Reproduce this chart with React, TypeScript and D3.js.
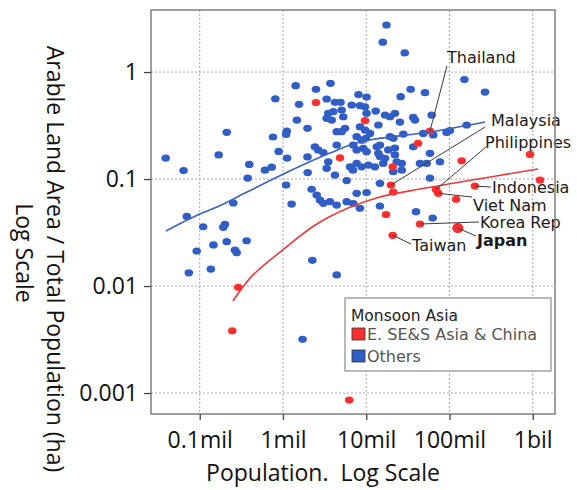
import { useEffect, useRef } from 'react';
import * as d3 from 'd3';

// Population in millions (log axis), arable land per person in ha (log axis)
const xTicks = [0.1, 1, 10, 100, 1000];
const xTickLabels = ['0.1mil', '1mil', '10mil', '100mil', '1bil'];
const yTicks = [1, 0.1, 0.01, 0.001];
const yTickLabels = ['1', '0.1', '0.01', '0.001'];

// "Others" countries: [population (mil), arable ha / person]
const otherPoints: [number, number][] = [
  [0.039, 0.157], [0.064, 0.12], [0.07, 0.0447], [0.11, 0.0358], [0.192, 0.0354], [0.201, 0.0377],
  [0.092, 0.0212], [0.146, 0.0242], [0.211, 0.026], [0.265, 0.0217], [0.278, 0.0205], [0.366, 0.0265],
  [0.074, 0.0133], [0.136, 0.0144], [0.253, 0.0597], [0.169, 0.168], [0.211, 0.273], [0.394, 0.137],
  [0.377, 0.102], [0.608, 0.121], [0.732, 0.129], [0.759, 0.247], [0.809, 0.563], [1.11, 0.281],
  [1.09, 0.261], [0.888, 0.181], [1.12, 0.157], [1.09, 0.0879], [1.27, 0.0584], [1.42, 0.745],
  [2.49, 0.689], [3.72, 0.784], [1.56, 0.499], [1.47, 0.356], [1.97, 0.298], [1.97, 0.161],
  [1.98, 0.115], [2.21, 0.0803], [2.25, 0.0174], [4.42, 0.0127], [1.72, 0.00318],
  [3.35, 0.56], [4.21, 0.521], [4.91, 0.521], [8.07, 0.616], [10.1, 0.584], [6.69, 0.492],
  [8.41, 0.486], [3.5, 0.411], [4.02, 0.426], [5.07, 0.441], [5.3, 0.382], [3.35, 0.369],
  [3.85, 0.356], [9.66, 0.474], [10.1, 0.411], [13.0, 0.432], [19.3, 0.382], [22.1, 0.411],
  [4.42, 0.277], [5.07, 0.277], [5.56, 0.298], [8.41, 0.308], [9.66, 0.287], [11.1, 0.267],
  [14.0, 0.32], [7.68, 0.249], [8.81, 0.231], [9.9, 0.24], [19.3, 0.249], [21.1, 0.24],
  [2.42, 0.2], [2.65, 0.187], [3.05, 0.177], [4.42, 0.208], [6.99, 0.208], [7.68, 0.187],
  [9.22, 0.194], [10.1, 0.18], [13.4, 0.2], [14.0, 0.174], [18.4, 0.187], [22.1, 0.168],
  [3.5, 0.145], [6.38, 0.13], [7.68, 0.14], [8.81, 0.13], [10.6, 0.135], [12.7, 0.13],
  [16.0, 0.14], [3.35, 0.126], [6.93, 0.121], [4.21, 0.109], [5.82, 0.0968], [14.6, 0.0912],
  [2.54, 0.0709], [2.78, 0.0636], [3.05, 0.0593], [3.67, 0.0614], [4.42, 0.0571], [5.82, 0.0614],
  [6.99, 0.059], [7.68, 0.0735], [10.1, 0.0748], [14.6, 0.056], [39.6, 0.0495], [62.8, 0.0432],
  [17.5, 2.75], [15.8, 1.9], [29.0, 1.51], [151, 0.851], [267, 0.65], [34.2, 0.689],
  [50.8, 0.641], [25.9, 0.588], [61.1, 0.396], [36.7, 0.377], [38.5, 0.356], [16.8, 0.396],
  [25.4, 0.341], [161, 0.32], [101, 0.284], [92.5, 0.272], [48.4, 0.267], [63.8, 0.258],
  [27.9, 0.263], [14.6, 0.208], [22.1, 0.195], [14.6, 0.162], [16.8, 0.156], [23.2, 0.145],
  [26.7, 0.14], [44.2, 0.14], [53.2, 0.14], [58.3, 0.174], [76.9, 0.145], [36.7, 0.2],
  [21.1, 0.117], [26.7, 0.121], [58.3, 0.102], [8.41, 0.0532],
];

// "E. SE&S Asia & China" countries
const monsoonPoints: [number, number][] = [
  [2.49, 0.519], [9.66, 0.351], [4.84, 0.158], [58.3, 0.281], [41.9, 0.216], [20.8, 0.13],
  [140, 0.148], [927, 0.17], [1222, 0.098], [19.8, 0.0879], [21.1, 0.0756], [68.9, 0.0798],
  [73.3, 0.0735], [202, 0.086], [120, 0.0646], [17.3, 0.0466], [44.2, 0.038], [126, 0.0348],
  [20.8, 0.0298], [0.29, 0.00973], [0.246, 0.00382], [6.25, 0.00086],
];

// trend curves
const otherFit: [number, number][] = [
  [0.0393, 0.0327], [0.1, 0.0471], [0.161, 0.0547], [0.37, 0.0756], [1, 0.111],
  [3.67, 0.175], [8.41, 0.222], [58.3, 0.275], [267, 0.341],
];
const monsoonFit: [number, number][] = [
  [0.251, 0.00724], [0.42, 0.0123], [0.99, 0.0217], [2.42, 0.037], [6.04, 0.0535],
  [14.6, 0.0679], [44.2, 0.0807], [134, 0.0938], [1156, 0.124],
];

// labelled countries: point, leader line end, text position (all in data units)
const countryLabels = [
  { name: 'Thailand', point: [58.3, 0.281], lineTo: [93.3, 1.14], textAt: [93.3, 1.21], bold: false },
  { name: 'Malaysia', point: [19.8, 0.0879], lineTo: [267, 0.306], textAt: [315, 0.313], bold: false },
  { name: 'Philippines', point: [68.9, 0.0798], lineTo: [274, 0.199], textAt: [267, 0.197], bold: false },
  { name: 'Indonesia', point: [202, 0.086], lineTo: [315, 0.0842], textAt: [324, 0.074], bold: false },
  { name: 'Viet Nam', point: [73.3, 0.0735], lineTo: [186, 0.0679], textAt: [192, 0.0508], bold: false },
  { name: 'Korea Rep', point: [44.2, 0.038], lineTo: [226, 0.0397], textAt: [232, 0.0346], bold: false },
  { name: 'Japan', point: [126, 0.0348], lineTo: [208, 0.0293], textAt: [214, 0.0237], bold: true },
  { name: 'Taiwan', point: [20.8, 0.0298], lineTo: [34.5, 0.0247], textAt: [35.5, 0.0212], bold: false },
];

const BLUE = '#2f5ec6';
const RED = '#ff2e2e';

const App = () => {
  const ref = useRef<SVGSVGElement | null>(null);

  useEffect(() => {
    if (!ref.current) return;
    const svg = d3.select(ref.current);
    svg.selectAll('*').remove();

    const box = { left: 151, right: 555, top: 10, bottom: 414 };

    const x = d3.scaleLog().domain([0.026, 1850]).range([box.left, box.right]);
    const y = d3.scaleLog().domain([0.000637, 3.8]).range([box.bottom, box.top]);

    svg.append('rect').attr('width', 577).attr('height', 490).attr('fill', '#fff');

    // grid
    const grid = svg.append('g').attr('stroke', '#a8a8a8').attr('stroke-dasharray', '2,2');
    xTicks.forEach(t => {
      grid.append('line').attr('x1', x(t)).attr('x2', x(t)).attr('y1', box.top).attr('y2', box.bottom);
    });
    yTicks.forEach(t => {
      grid.append('line').attr('x1', box.left).attr('x2', box.right).attr('y1', y(t)).attr('y2', y(t));
    });

    // points
    const dots = (pts: [number, number][], color: string) => {
      svg.append('g')
        .selectAll('ellipse')
        .data(pts)
        .enter()
        .append('ellipse')
        .attr('cx', d => x(d[0]))
        .attr('cy', d => y(d[1]))
        .attr('rx', 4.3)
        .attr('ry', 3.6)
        .attr('fill', color);
    };
    dots(otherPoints, BLUE);
    dots(monsoonPoints, RED);

    // Japan drawn a bit larger
    countryLabels.filter(c => c.bold).forEach(c => {
      svg.append('ellipse')
        .attr('cx', x(c.point[0]))
        .attr('cy', y(c.point[1]))
        .attr('rx', 5.6)
        .attr('ry', 5)
        .attr('fill', RED);
    });

    // trend curves
    const line = d3.line<[number, number]>()
      .x(d => x(d[0]))
      .y(d => y(d[1]))
      .curve(d3.curveCatmullRom.alpha(0.5));
    svg.append('path').datum(otherFit).attr('d', line).attr('fill', 'none')
      .attr('stroke', '#3a62c2').attr('stroke-width', 1.6);
    svg.append('path').datum(monsoonFit).attr('d', line).attr('fill', 'none')
      .attr('stroke', '#ec3a3a').attr('stroke-width', 1.6);

    // country labels
    const lab = svg.append('g');
    countryLabels.forEach(c => {
      lab.append('line')
        .attr('x1', x(c.point[0])).attr('y1', y(c.point[1]))
        .attr('x2', x(c.lineTo[0])).attr('y2', y(c.lineTo[1]))
        .attr('stroke', '#3a3a3a').attr('stroke-width', 1);
      lab.append('text')
        .attr('x', x(c.textAt[0]))
        .attr('y', y(c.textAt[1]))
        .attr('font-family', 'DejaVu Sans')
        .attr('font-size', 16)
        .attr('font-weight', c.bold ? 'bold' : 'normal')
        .attr('fill', '#1a1a1a')
        .text(c.name);
    });

    // frame
    svg.append('rect')
      .attr('x', box.left).attr('y', box.top)
      .attr('width', box.right - box.left).attr('height', box.bottom - box.top)
      .attr('fill', 'none').attr('stroke', '#7f7f7f').attr('stroke-width', 1.5);

    // axes
    const xAxis = svg.append('g')
      .attr('transform', `translate(0,${box.bottom})`)
      .call(d3.axisBottom(x).tickValues(xTicks).tickSize(6).tickPadding(12)
        .tickFormat((_d, i) => xTickLabels[i]));
    const yAxis = svg.append('g')
      .attr('transform', `translate(${box.left},0)`)
      .call(d3.axisLeft(y).tickValues(yTicks).tickSize(7).tickPadding(6)
        .tickFormat((_d, i) => yTickLabels[i]));
    [xAxis, yAxis].forEach(a => {
      a.select('.domain').remove();
      a.selectAll('line').attr('stroke', '#444').attr('stroke-width', 1.3);
      a.selectAll('text')
        .attr('font-family', 'Open Sans')
        .attr('font-size', 23)
        .attr('fill', '#111');
    });

    // axis titles
    svg.append('text')
      .attr('x', 323).attr('y', 481)
      .attr('text-anchor', 'middle')
      .attr('font-family', 'Open Sans').attr('font-size', 23).attr('fill', '#111')
      .style('white-space', 'pre')
      .text('Population.  Log Scale');
    const yt = svg.append('text')
      .attr('transform', 'translate(47,259) rotate(90)')
      .attr('text-anchor', 'middle')
      .attr('font-family', 'Open Sans').attr('font-size', 23).attr('fill', '#111');
    yt.append('tspan').attr('x', 0).attr('y', 0).text('Arable Land Area / Total Population (ha)');
    yt.append('tspan').attr('x', -6).attr('y', 31).text('Log Scale');

    // legend
    const lg = svg.append('g');
    lg.append('rect').attr('x', 345).attr('y', 298).attr('width', 206).attr('height', 73)
      .attr('fill', '#fff').attr('stroke', '#8c8c8c').attr('stroke-width', 1.2);
    lg.append('text').attr('x', 351).attr('y', 321)
      .attr('font-family', 'DejaVu Sans').attr('font-size', 15.5).attr('fill', '#222')
      .text('Monsoon Asia');
    const items = [
      { label: 'E. SE&S Asia & China', color: RED },
      { label: 'Others', color: BLUE },
    ];
    items.forEach((it, i) => {
      lg.append('rect').attr('x', 352).attr('y', 328 + i * 22).attr('width', 13).attr('height', 12)
        .attr('fill', it.color).attr('stroke', '#333').attr('stroke-width', 0.8);
      lg.append('text').attr('x', 367).attr('y', 340 + i * 22)
        .attr('font-family', 'DejaVu Sans').attr('font-size', 16).attr('fill', '#555')
        .text(it.label);
    });

    return () => {
      svg.selectAll('*').remove();
    };
  }, []);

  return (
    <svg
      ref={ref}
      width={577}
      height={490}
      style={{ position: 'absolute', left: 0, top: 0 }}
    />
  );
};

export default App;
